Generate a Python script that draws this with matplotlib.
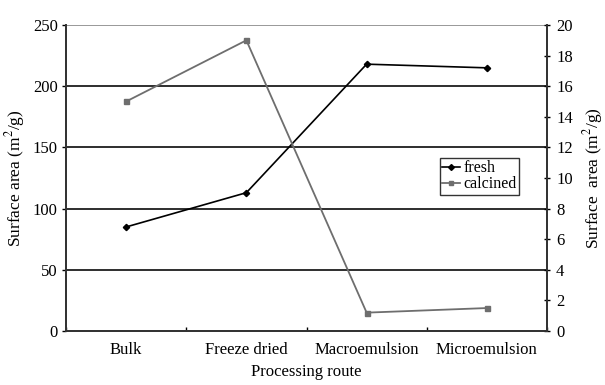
import matplotlib
matplotlib.use("Agg")
import matplotlib.pyplot as plt
from matplotlib.lines import Line2D

plt.rcParams['font.family'] = ['Liberation Serif', 'DejaVu Serif']
plt.rcParams['mathtext.fontset'] = 'stix'

categories = ["Bulk", "Freeze dried", "Macroemulsion", "Microemulsion"]
fresh = [85, 113, 218, 215]          # left axis, m2/g
calcined = [15.0, 19.0, 1.2, 1.5]    # right axis, m2/g
left_ticks = [0, 50, 100, 150, 200, 250]
right_ticks = list(range(0, 21, 2))

fig = plt.figure(figsize=(6.05, 3.85), dpi=100)
ax = fig.add_axes([66/605, 1 - 331/385, (547-66)/605, (331-25)/385])
ax2 = ax.twinx()

x = [i + 0.5 for i in range(len(categories))]

# horizontal grid at the left-axis ticks
for v in left_ticks[1:-1]:
    ax.axhline(v, color='#2e2e2e', lw=1.4, zorder=1)
ax.axhline(250, color='#999999', lw=1.4, zorder=1)

ax.plot(x, fresh, color='black', lw=1.2, marker='D', ms=3.2, zorder=3)
ax2.plot(x, calcined, color='#6e6e6e', lw=1.3, marker='s', ms=3.6, zorder=3)

ax.set_xlim(0, 4)
ax.set_ylim(0, 250)
ax2.set_ylim(0, 20)
ax.set_yticks(left_ticks)
ax2.set_yticks(right_ticks)

ax.set_xticks([0, 1, 2, 3, 4])
ax.set_xticklabels([])
ax.set_xticks(x, minor=True)
ax.set_xticklabels(categories, minor=True, fontsize=12)
ax.tick_params(axis='x', which='minor', length=0, pad=8)
ax.tick_params(axis='x', which='major', direction='in', length=3, width=1)
ax.tick_params(axis='y', direction='out', length=3, width=1, labelsize=12, pad=3)
ax2.tick_params(axis='y', direction='inout', length=5, width=1, labelsize=12, pad=4)

for a in (ax, ax2):
    a.spines['top'].set_visible(False)
    for side in ('left', 'right', 'bottom'):
        a.spines[side].set_linewidth(1.3)
        a.spines[side].set_color('#333333')

ax.set_xlabel("Processing route", fontsize=12, labelpad=4)
ax.set_ylabel("Surface area (m$^2$/g)", fontsize=12.5, labelpad=4)
ax2.set_ylabel("Surface  area (m$^2$/g)", fontsize=12.5, labelpad=6)

handles = [
    Line2D([], [], color='black', lw=1.2, marker='D', ms=3),
    Line2D([], [], color='#6e6e6e', lw=1.3, marker='s', ms=3.4),
]
leg = ax2.legend(handles, ["fresh", "calcined"], loc='upper left',
                 bbox_to_anchor=((440-66)/481, (331-158)/306),
                 frameon=True, fancybox=False, fontsize=11.5,
                 handlelength=1.1, handletextpad=0.2, borderpad=0.15,
                 labelspacing=0.0, borderaxespad=0)
leg.get_frame().set_edgecolor('black')
leg.get_frame().set_linewidth(1.0)

fig.savefig("out.png", dpi=100)
